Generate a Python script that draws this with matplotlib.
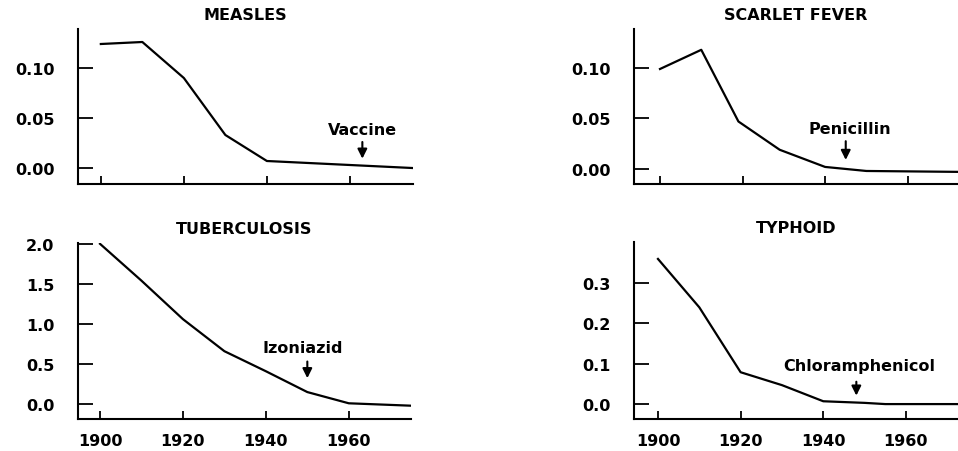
import numpy as np
import matplotlib
matplotlib.use("Agg")
import matplotlib.pyplot as plt

# death rates (per 1000), by decade
measles_years = [1900, 1910, 1920, 1930, 1940, 1975]
measles_rate = [0.124, 0.126, 0.090, 0.033, 0.007, 0.000]

scarlet_years = [1900, 1910, 1919, 1929, 1940, 1950, 1975]
scarlet_rate = [0.099, 0.118, 0.047, 0.019, 0.002, -0.002, -0.003]

tb_years = [1900, 1910, 1920, 1930, 1940, 1950, 1960, 1975]
tb_rate = [2.00, 1.54, 1.06, 0.66, 0.41, 0.15, 0.01, -0.02]

typhoid_years = [1900, 1910, 1920, 1930, 1940, 1950, 1955, 1975]
typhoid_rate = [0.36, 0.24, 0.079, 0.047, 0.007, 0.003, 0.000, 0.000]

titles = ["MEASLES", "SCARLET FEVER", "TUBERCULOSIS", "TYPHOID"]
interventions = ["Vaccine", "Penicillin", "Izoniazid", "Chloramphenicol"]
intervention_years = [1963, 1945, 1950, 1948]

y_ticks = [
    [0.00, 0.05, 0.10],
    [0.00, 0.05, 0.10],
    [0.0, 0.5, 1.0, 1.5, 2.0],
    [0.0, 0.1, 0.2, 0.3],
]
y_tick_labels = [
    ["0.00", "0.05", "0.10"],
    ["0.00", "0.05", "0.10"],
    ["0.0", "0.5", "1.0", "1.5", "2.0"],
    ["0.0", "0.1", "0.2", "0.3"],
]
x_ticks = [1900, 1920, 1940, 1960]

W, H = 958, 452
# axes boxes in pixels: left, right, top, bottom
boxes = [(78, 413, 30, 185), (634, 958, 30, 185), (78, 411, 244, 420), (634, 958, 243, 420)]
xlims = [(1894.5, 1975.2), (1893.7, 1972.2), (1894.7, 1975.0), (1894.2, 1972.6)]
ylims = [(-0.016, 0.139), (-0.0149, 0.1386), (-0.186, 2.01), (-0.037, 0.402)]
# annotation offsets in points: text dy, text dx, arrow tail, arrow tip gap
ann_offsets = [(26, 0, 17, 5), (29, 3, 20, 6.5), (32, -3, 22, 10), (27, 2, 15, 5)]

series = [
    (measles_years, measles_rate),
    (scarlet_years, scarlet_rate),
    (tb_years, tb_rate),
    (typhoid_years, typhoid_rate),
]

plt.rcParams["font.family"] = ["DejaVu Sans"]

fig = plt.figure(figsize=(W / 100, H / 100), dpi=100, facecolor="white")

for i, (yrs, vals) in enumerate(series):
    l, r, t, b = boxes[i]
    ax = fig.add_axes([l / W, 1 - b / H, (r - l) / W, (b - t) / H])
    ax.plot(yrs, vals, color="black", lw=1.6, clip_on=True)

    ax.set_xlim(*xlims[i])
    ax.set_ylim(*ylims[i])
    for s in ["top", "right"]:
        ax.spines[s].set_visible(False)
    for s in ["left", "bottom"]:
        ax.spines[s].set_linewidth(1.5)

    ax.set_yticks(y_ticks[i])
    ax.set_yticklabels(y_tick_labels[i])
    ax.set_xticks(x_ticks)
    if i >= 2:
        ax.set_xticklabels([str(x) for x in x_ticks])
    else:
        ax.set_xticklabels([])
    ax.tick_params(axis="y", direction="in", length=11, width=1.3, pad=17, labelsize=11.5)
    ax.tick_params(axis="x", direction="in", length=6, width=1.3, pad=10, labelsize=11.5)
    for lab in ax.get_xticklabels() + ax.get_yticklabels():
        lab.set_fontweight("bold")

    ax.set_title(titles[i], fontsize=11.5, fontweight="bold", pad=7)

    yr = intervention_years[i]
    v = np.interp(yr, yrs, vals)
    tdy, tdx, tail, gap = ann_offsets[i]
    ax.annotate("", xy=(yr, v), xytext=(0, tail), textcoords="offset points",
                arrowprops=dict(arrowstyle="-|>", color="black", lw=1.5,
                                mutation_scale=14, shrinkA=0, shrinkB=gap))
    ax.annotate(interventions[i], xy=(yr, v), xytext=(tdx, tdy), textcoords="offset points",
                ha="center", va="center", fontsize=11.5, fontweight="bold",
                annotation_clip=False)

fig.savefig("out.png", dpi=100, facecolor="white")
